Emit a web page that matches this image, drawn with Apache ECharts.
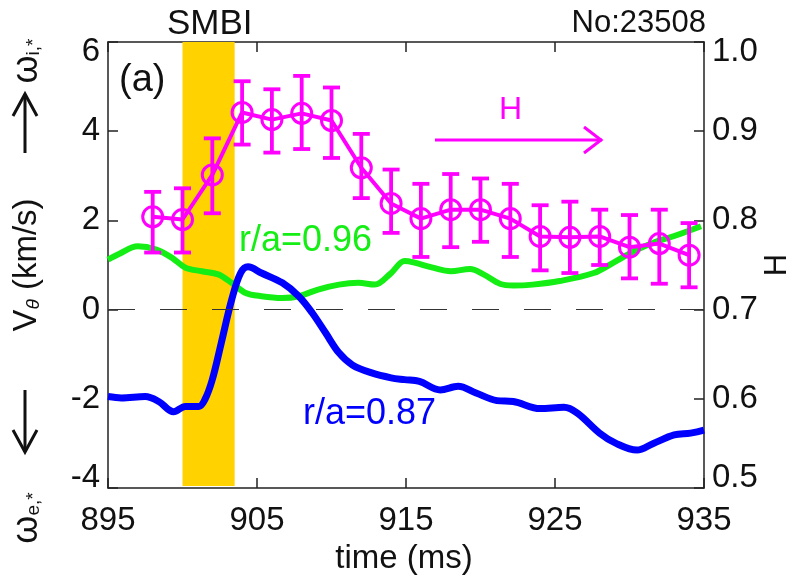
<!DOCTYPE html>
<html>
<head>
<meta charset="utf-8">
<script src="https://cdn.jsdelivr.net/npm/echarts@6/dist/echarts.min.js"></script>
<style>
html,body{margin:0;padding:0;background:#fff;}
#chart{width:792px;height:581px;}
</style>
</head>
<body>
<div id="chart"></div>
<script>
// ---- data ----
const xTicks = [895, 905, 915, 925, 935];
const leftTicks = [-4, -2, 0, 2, 4, 6];
const rightTicks = [0.5, 0.6, 0.7, 0.8, 0.9, 1.0];
const smbiWindow = [900, 903.5];

const hTime  = [898, 900, 902, 904, 906, 908, 910, 912, 914, 916, 918, 920, 922, 924, 926, 928, 930, 932, 934];
const hValue = [0.804, 0.801, 0.851, 0.921, 0.913, 0.920, 0.912, 0.859, 0.819, 0.802, 0.812, 0.812, 0.802, 0.782, 0.781, 0.782, 0.770, 0.774, 0.761];
const hLow   = [0.764, 0.764, 0.808, 0.885, 0.876, 0.880, 0.870, 0.825, 0.786, 0.759, 0.770, 0.776, 0.759, 0.744, 0.741, 0.750, 0.735, 0.729, 0.725];
const hHigh  = [0.832, 0.836, 0.892, 0.956, 0.947, 0.962, 0.949, 0.897, 0.857, 0.841, 0.852, 0.847, 0.841, 0.817, 0.821, 0.812, 0.806, 0.812, 0.797];

const greenTime = [895.0, 895.7, 897.0, 898.2, 899.3, 900.2, 901.3, 902.4, 903.3, 904.2, 905.3, 906.7, 907.8, 909.1, 910.5, 911.8, 912.9, 914.0, 914.9, 915.5, 916.8, 918.0, 919.3, 920.2, 921.3, 922.2, 923.5, 925.3, 927.6, 928.9, 930.3, 931.6, 933.0, 934.8];
const greenV    = [1.12, 1.24, 1.42, 1.35, 1.16, 0.94, 0.86, 0.79, 0.60, 0.38, 0.30, 0.26, 0.30, 0.45, 0.56, 0.60, 0.56, 0.82, 1.09, 1.06, 0.94, 0.86, 0.91, 0.79, 0.58, 0.54, 0.56, 0.64, 0.82, 1.05, 1.31, 1.50, 1.65, 1.87];

const blueTime = [895.0, 895.9, 897.5, 898.4, 899.4, 900.2, 901.1, 901.5, 902.0, 902.6, 903.3, 903.9, 904.4, 905.3, 906.7, 907.8, 908.7, 909.6, 910.5, 911.4, 912.7, 914.0, 914.9, 915.9, 917.3, 918.5, 919.7, 921.1, 922.2, 924.0, 925.6, 926.5, 928.0, 929.1, 930.5, 931.6, 933.0, 934.1, 935.0];
const blueV    = [-1.95, -1.98, -1.95, -2.06, -2.29, -2.17, -2.17, -2.02, -1.57, -0.75, 0.22, 0.82, 0.96, 0.82, 0.60, 0.30, -0.07, -0.52, -0.97, -1.24, -1.42, -1.53, -1.57, -1.61, -1.80, -1.72, -1.87, -2.04, -2.06, -2.22, -2.19, -2.32, -2.77, -3.00, -3.15, -3.00, -2.81, -2.77, -2.70];

// ---- build ----
const FONT = '"Liberation Sans", Arial, sans-serif';
const MAG = '#FF00FF', GREEN = '#14EE14', BLUE = '#0000FF', GOLD = '#FFD200';
const zip = (a, b) => a.map((v, i) => [v, b[i]]);

const chart = echarts.init(document.getElementById('chart'));

const axisCommon = {
  axisLine: { show: true, onZero: false, lineStyle: { color: '#222', width: 1.5 } },
  axisTick: { show: true, inside: true, length: 10, lineStyle: { color: '#222', width: 1.5 } },
  splitLine: { show: false }
};

chart.setOption({
  animation: false,
  backgroundColor: '#fff',
  grid: { left: 108, right: 88, top: 42, bottom: 93, containLabel: false },
  xAxis: [
    Object.assign({}, axisCommon, {
      type: 'value', min: xTicks[0], max: xTicks[xTicks.length - 1], interval: 10, position: 'bottom',
      axisLabel: { color: '#111', fontSize: 33, fontFamily: FONT, margin: 16 }
    }),
    Object.assign({}, axisCommon, {
      type: 'value', min: xTicks[0], max: xTicks[xTicks.length - 1], interval: 10, position: 'top',
      axisLabel: { show: false }
    })
  ],
  yAxis: [
    Object.assign({}, axisCommon, {
      type: 'value', min: leftTicks[0], max: leftTicks[leftTicks.length - 1], interval: 2, position: 'left',
      axisLabel: { color: '#111', fontSize: 33, fontFamily: FONT, margin: 8, lineHeight: 20,
        verticalAlignMaxLabel: 'top', verticalAlignMinLabel: 'bottom' }
    }),
    Object.assign({}, axisCommon, {
      type: 'value', min: rightTicks[0], max: rightTicks[rightTicks.length - 1], interval: 0.1, position: 'right',
      axisLabel: { color: '#111', fontSize: 33, fontFamily: FONT, margin: 8, lineHeight: 20,
        verticalAlignMaxLabel: 'top', verticalAlignMinLabel: 'bottom',
        formatter: v => v.toFixed(1) }
    })
  ],
  series: [
    {
      type: 'custom', name: 'SMBI', xAxisIndex: 0, yAxisIndex: 0, z: 1, silent: true,
      data: [smbiWindow],
      encode: { x: [0, 1] },
      renderItem: (params, api) => {
        const p1 = api.coord([api.value(0), leftTicks[leftTicks.length - 1]]);
        const p2 = api.coord([api.value(1), leftTicks[0]]);
        return { type: 'rect', shape: { x: p1[0], y: p1[1], width: p2[0] - p1[0], height: p2[1] - p1[1] - 2 },
          style: { fill: GOLD } };
      }
    },
    {
      type: 'line', name: 'r/a=0.96', xAxisIndex: 0, yAxisIndex: 0, z: 3,
      data: zip(greenTime, greenV), smooth: 0.35, showSymbol: false, symbol: 'none',
      lineStyle: { color: GREEN, width: 6 },
      markLine: {
        silent: true, symbol: 'none', label: { show: false },
        lineStyle: { color: '#333', width: 1.2, type: [27, 25] },
        data: [{ yAxis: 0 }]
      }
    },
    {
      type: 'line', name: 'r/a=0.87', xAxisIndex: 0, yAxisIndex: 0, z: 4,
      data: zip(blueTime, blueV), smooth: 0.35, showSymbol: false, symbol: 'none',
      lineStyle: { color: BLUE, width: 7 }
    },
    {
      type: 'custom', name: 'H err', xAxisIndex: 0, yAxisIndex: 1, z: 5,
      data: hTime.map((t, i) => [t, hLow[i], hHigh[i]]),
      encode: { x: 0, y: [1, 2] },
      renderItem: (params, api) => {
        const t = api.value(0);
        const lo = api.coord([t, api.value(1)]);
        const hi = api.coord([t, api.value(2)]);
        const hw = 8.5;
        const st = { stroke: MAG, lineWidth: 3.8 };
        return { type: 'group', children: [
          { type: 'line', shape: { x1: hi[0], y1: hi[1], x2: lo[0], y2: lo[1] }, style: st },
          { type: 'line', shape: { x1: hi[0] - hw, y1: hi[1], x2: hi[0] + hw, y2: hi[1] }, style: st },
          { type: 'line', shape: { x1: lo[0] - hw, y1: lo[1], x2: lo[0] + hw, y2: lo[1] }, style: st }
        ] };
      }
    },
    {
      type: 'line', name: 'H', xAxisIndex: 0, yAxisIndex: 1, z: 6,
      data: zip(hTime, hValue), symbol: 'circle', symbolSize: 20, showSymbol: true,
      itemStyle: { color: 'rgba(0,0,0,0)', borderColor: MAG, borderWidth: 3 },
      lineStyle: { color: MAG, width: 4 }
    }
  ],
  graphic: [
    { type: 'text', left: 167, top: 7, style: { text: 'SMBI', font: '35px ' + FONT, fill: '#111' } },
    { type: 'text', right: 86, top: 8, style: { text: 'No:23508', font: '31px ' + FONT, fill: '#111' } },
    { type: 'text', left: 119, top: 62, style: { text: '(a)', font: '38px ' + FONT, fill: '#111' } },
    { type: 'text', left: 239, top: 223, style: { text: 'r/a=0.96', font: '36px ' + FONT, fill: GREEN } },
    { type: 'text', left: 303, top: 396, style: { text: 'r/a=0.87', font: '36px ' + FONT, fill: BLUE } },
    { type: 'text', left: 499, top: 94, style: { text: 'H', font: '32px ' + FONT, fill: MAG } },
    { type: 'polyline', shape: { points: [[435, 140], [602, 140]] }, style: { stroke: MAG, lineWidth: 3 } },
    { type: 'polyline', shape: { points: [[584, 127], [601, 140], [584, 153]] }, style: { stroke: MAG, lineWidth: 3, fill: null } },
    { type: 'text', x: 404, y: 559, style: { text: 'time (ms)', font: '33px ' + FONT, fill: '#111', align: 'center', verticalAlign: 'middle' } },
    { type: 'text', x: 777, y: 265, rotation: Math.PI / 2, style: { text: 'H', font: '31px ' + FONT, fill: '#111', align: 'center', verticalAlign: 'middle' } },
    // left axis title pieces
    { type: 'text', x: 27, y: 265, rotation: Math.PI / 2, style: {
      text: '{v|V}{s|θ} (km/s)', align: 'center', verticalAlign: 'middle',
      rich: { v: { font: '33px ' + FONT, fill: '#111' }, s: { font: 'italic 19px ' + FONT, fill: '#111', verticalAlign: 'bottom', padding: [14, 0, 0, 0] } },
      font: '33px ' + FONT, fill: '#111' } },
    { type: 'text', x: 27, y: 61, rotation: Math.PI / 2, style: {
      text: '{w|ω}{s|i,*}', align: 'center', verticalAlign: 'middle',
      rich: { w: { font: '36px ' + FONT, fill: '#111' }, s: { font: '19px ' + FONT, fill: '#111', padding: [14, 0, 0, 0] } } } },
    { type: 'text', x: 27, y: 518, rotation: Math.PI / 2, style: {
      text: '{w|ω}{s|e,*}', align: 'center', verticalAlign: 'middle',
      rich: { w: { font: '36px ' + FONT, fill: '#111' }, s: { font: '19px ' + FONT, fill: '#111', padding: [14, 0, 0, 0] } } } },
    { type: 'polyline', shape: { points: [[25, 153], [25, 94]] }, style: { stroke: '#111', lineWidth: 3 } },
    { type: 'polyline', shape: { points: [[13, 116], [25, 94], [37, 116]] }, style: { stroke: '#111', lineWidth: 3, fill: null } },
    { type: 'polyline', shape: { points: [[25, 390], [25, 452]] }, style: { stroke: '#111', lineWidth: 3 } },
    { type: 'polyline', shape: { points: [[13, 430], [25, 452], [37, 430]] }, style: { stroke: '#111', lineWidth: 3, fill: null } }
  ]
});
</script>
</body>
</html>
